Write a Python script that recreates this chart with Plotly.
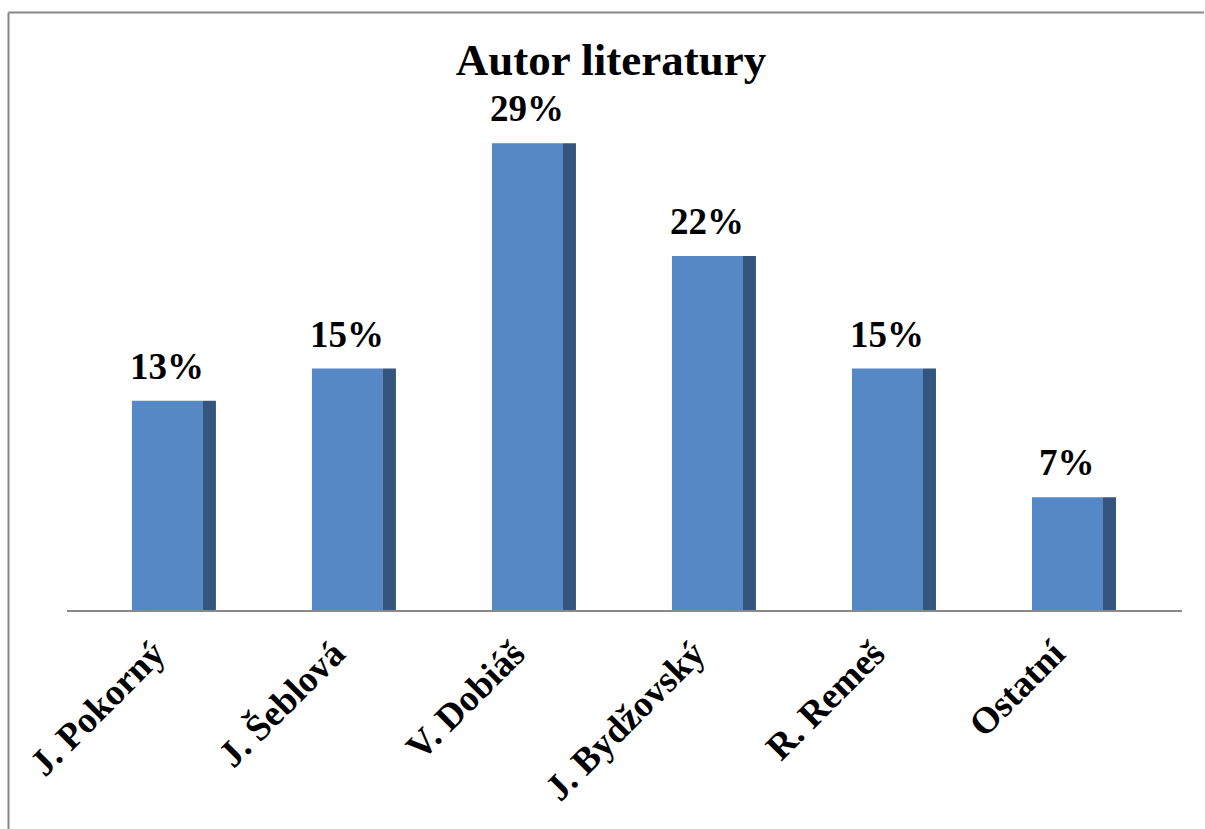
import plotly.graph_objects as go

categories = ["J. Pokorný", "J. Šeblová", "V. Dobiáš", "J. Bydžovský", "R. Remeš", "Ostatní"]
values = [13, 15, 29, 22, 15, 7]
labels = ["13%", "15%", "29%", "22%", "15%", "7%"]

FRONT = "#5588C5"
SIDE = "#34557E"
FONT = "Liberation Serif"

fig = go.Figure()
fig.add_trace(go.Bar(
    x=categories, y=values, width=71 / 180, offset=-42 / 180,
    marker=dict(color=FRONT, line=dict(width=0)), hoverinfo="skip", showlegend=False,
))
fig.add_trace(go.Bar(
    x=categories, y=values, width=13 / 180, offset=29 / 180,
    marker=dict(color=SIDE, line=dict(width=0)), hoverinfo="skip", showlegend=False,
))

for c, v, t in zip(categories, values, labels):
    fig.add_annotation(
        x=c, y=v, text=t, showarrow=False, xref="x", yref="y",
        xanchor="center", yanchor="bottom", xshift=-7, yshift=12,
        font=dict(family=FONT, size=37, color="black", weight="bold"),
    )

# outer chart border (left and top edges visible)
fig.add_shape(
    type="line", xref="paper", yref="paper",
    x0=(8.5 - 67) / 1115, x1=(8.5 - 67) / 1115,
    y0=(610 - 829) / 515, y1=(610 - 12.5) / 515,
    line=dict(color="#878787", width=2), layer="above",
)
fig.add_shape(
    type="line", xref="paper", yref="paper",
    x0=(8.5 - 67) / 1115, x1=(1204 - 67) / 1115,
    y0=(610 - 12.5) / 515, y1=(610 - 12.5) / 515,
    line=dict(color="#878787", width=2), layer="above",
)

fig.update_layout(
    width=1205, height=829,
    margin=dict(l=67, r=23, t=95, b=219),
    paper_bgcolor="white", plot_bgcolor="white",
    barmode="overlay",
    title=dict(
        text="Autor literatury", x=611 / 1205, xanchor="center", xref="container",
        y=1 - 59 / 829, yanchor="middle", yref="container",
        font=dict(family=FONT, size=45, color="black", weight="bold"),
    ),
    xaxis=dict(
        type="category", range=[-0.594, 5.6],
        showline=True, linecolor="#898989", linewidth=2,
        showgrid=False, ticks="", tickangle=-45,
        ticklabelshift=-20, ticklabelstandoff=5,
        tickfont=dict(family=FONT, size=37, color="black", weight="bold"),
    ),
    yaxis=dict(range=[0, 32], visible=False, showgrid=False, zeroline=False),
)

fig.write_html("out.html")
